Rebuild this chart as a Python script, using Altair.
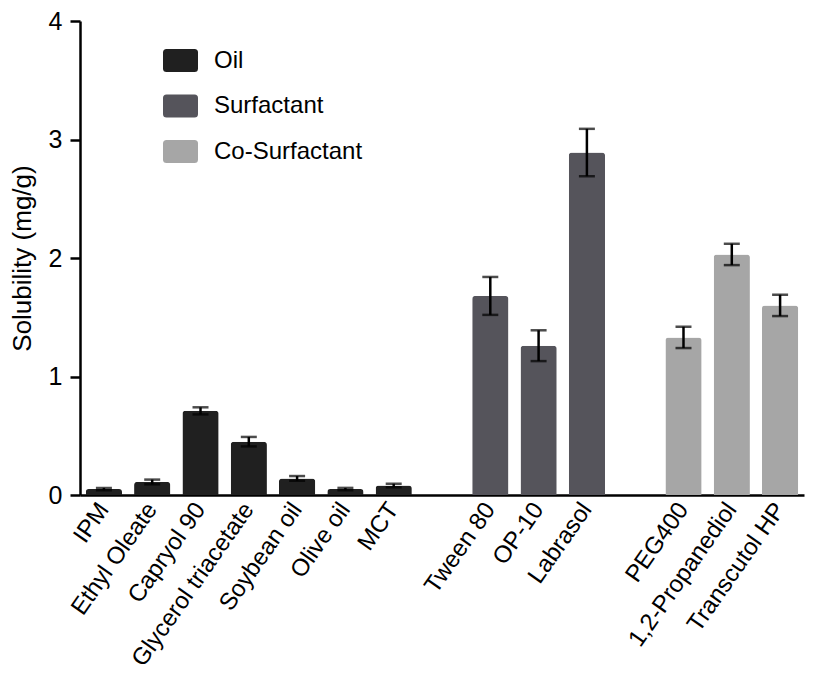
import altair as alt
import pandas as pd

# ---- data ----
categories = ["IPM", "Ethyl Oleate", "Capryol 90", "Glycerol triacetate", "Soybean oil",
              "Olive oil", "MCT", "Tween 80", "OP-10", "Labrasol",
              "PEG400", "1,2-Propanediol", "Transcutol HP"]
groups = ["Oil"] * 7 + ["Surfactant"] * 3 + ["Co-Surfactant"] * 3
values = [0.05, 0.11, 0.71, 0.45, 0.14, 0.05, 0.08, 1.68, 1.26, 2.89, 1.33, 2.03, 1.60]
errors = [0.01, 0.02, 0.03, 0.04, 0.02, 0.01, 0.015, 0.16, 0.13, 0.20, 0.09, 0.09, 0.09]

group_order = ["Oil", "Surfactant", "Co-Surfactant"]
group_colors = ["#202020", "#55545b", "#a6a6a6"]
y_ticks = [0, 1, 2, 3, 4]

# x domain with two blank spacer slots separating the groups
x_domain = categories[:7] + [" "] + categories[7:10] + ["  "] + categories[10:]

df = pd.DataFrame({
    "name": categories,
    "group": groups,
    "value": values,
    "err": errors,
})
df["lo"] = df["value"] - df["err"]
df["hi"] = df["value"] + df["err"]

FONT = "Liberation Sans"
ROUNDED_RECT = ("M-0.8,-0.66 L0.8,-0.66 Q1,-0.66 1,-0.46 L1,0.46 Q1,0.66 0.8,0.66 "
                "L-0.8,0.66 Q-1,0.66 -1,0.46 L-1,-0.46 Q-1,-0.66 -0.8,-0.66 Z")

x_scale = alt.Scale(domain=x_domain, paddingInner=0.25, paddingOuter=0.12)
x_enc = alt.X("name:N", sort=x_domain, scale=x_scale,
              axis=alt.Axis(title=None, labelAngle=-55, labelFontSize=24, labelFont=FONT,
                            labelColor="black", ticks=False, labelPadding=10,
                            domainColor="black", domainWidth=2.5, labelLimit=400))
y_scale = alt.Scale(domain=[0, 4], nice=False)

bars = alt.Chart(df).mark_bar(cornerRadiusEnd=3).encode(
    x=x_enc,
    y=alt.Y("value:Q", scale=y_scale,
            axis=alt.Axis(title="Solubility (mg/g)", values=y_ticks, format="d", grid=False,
                          labelFontSize=25, labelFont=FONT, labelColor="black",
                          titleFontSize=26, titleFont=FONT, titleFontWeight="normal",
                          titleColor="black", titlePadding=13, tickSize=10, tickWidth=2.5,
                          tickColor="black", domainColor="black", domainWidth=2.5,
                          labelPadding=8)),
    color=alt.Color("group:N", scale=alt.Scale(domain=group_order, range=group_colors),
                    legend=alt.Legend(title=None, orient="none", legendX=83, legendY=22,
                                      symbolType=ROUNDED_RECT,
                                      symbolSize=1225, symbolStrokeWidth=0,
                                      labelFontSize=24, labelFont=FONT, labelColor="black",
                                      rowPadding=15.5, labelOffset=16)),
)

rules = alt.Chart(df).mark_rule(color="black", strokeWidth=2.5).encode(
    x=alt.X("name:N", sort=x_domain, scale=x_scale),
    y=alt.Y("lo:Q", scale=y_scale),
    y2="hi:Q",
)

caps_lo = alt.Chart(df).mark_tick(color="black", thickness=2.5, size=16, orient="horizontal").encode(
    x=alt.X("name:N", sort=x_domain, scale=x_scale),
    y=alt.Y("lo:Q", scale=y_scale),
)
caps_hi = alt.Chart(df).mark_tick(color="black", thickness=2.5, size=16, orient="horizontal").encode(
    x=alt.X("name:N", sort=x_domain, scale=x_scale),
    y=alt.Y("hi:Q", scale=y_scale),
)

chart = alt.layer(bars, rules, caps_lo, caps_hi).properties(
    width=724, height=474,
    autosize=alt.AutoSizeParams(type="none"),
    padding={"left": 72, "top": 13, "right": 3, "bottom": 180},
    background="white",
).configure_view(strokeWidth=0)

chart.save("out.html", embed_options={"renderer": "svg", "actions": False})
